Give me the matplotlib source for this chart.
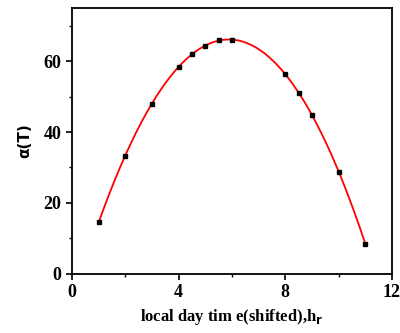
import numpy as np
import matplotlib.pyplot as plt
from matplotlib.ticker import MultipleLocator

# datos
hr = [1, 2, 3, 4, 4.5, 5, 5.5, 6, 8, 8.5, 9, 10, 11]
alpha = [14.6, 33.3, 48.0, 58.3, 62.0, 64.4, 66.0, 66.1, 56.3, 51.0, 44.7, 28.8, 8.5]

# ajuste polinomial
coef = np.polyfit(hr, alpha, 3)
xf = np.linspace(min(hr), max(hr), 200)
yf = np.polyval(coef, xf)

plt.rcParams['font.family'] = 'Liberation Serif'
plt.rcParams['font.weight'] = 'bold'

fig = plt.figure(figsize=(4.0, 3.33), dpi=100)
ax = fig.add_axes([0.18, 0.178, 0.80, 0.798])

ax.plot(xf, yf, color='red', lw=1.3, zorder=2)
ax.plot(hr, alpha, 's', color='black', ms=3.5, zorder=3)

ax.set_xlim(0, 12)
ax.set_ylim(0, 75)
ax.xaxis.set_major_locator(MultipleLocator(4))
ax.xaxis.set_minor_locator(MultipleLocator(2))
ax.yaxis.set_major_locator(MultipleLocator(20))
ax.yaxis.set_minor_locator(MultipleLocator(10))
ax.tick_params(which='major', direction='out', length=4, width=1.2, labelsize=13)
ax.tick_params(which='minor', direction='out', length=2.5, width=1.0)
for s in ax.spines.values():
    s.set_linewidth(1.3)

ax.set_xlabel('local day tim e(shifted),h$_\\mathbf{r}$', fontsize=12, fontweight='bold')
ax.set_ylabel('α(T)', fontsize=11, fontweight='bold', family='DejaVu Sans', labelpad=8)

fig.savefig('out.png', dpi=100)
